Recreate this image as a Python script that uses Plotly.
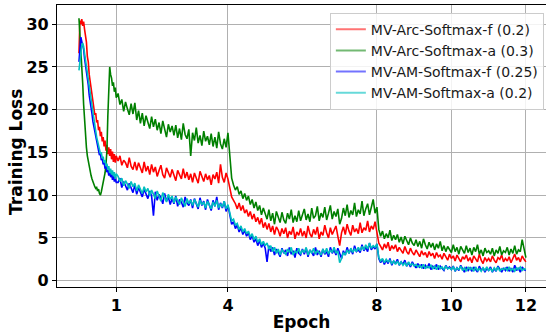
import numpy as np
import plotly.graph_objects as go

# ---- data ----
# sample grid: epochs 0..1 every 0.025, then 1.05..12.0 every 0.05
epoch_a = np.round(np.arange(41) * 0.025, 3)
epoch_b = np.round(1.05 + np.arange(220) * 0.05, 2)
epochs = np.concatenate([epoch_a, epoch_b])

arc_f = [
    26.6, 30.4, 30.0, 30.6, 29.8, 30.3, 29.4, 28.6, 27.9, 26.2,
    25.6, 24.1, 23.2, 22.4, 21.9, 20.8, 20.3, 19.4, 19.6, 18.5,
    18.8, 17.6, 18.0, 16.9, 17.4, 16.3, 16.8, 15.7, 16.4, 15.2,
    15.9, 14.8, 15.6, 14.6, 15.4, 14.2, 15.1, 13.9, 14.8, 13.8,
    14.6,
    14.0, 14.6, 13.5, 14.1, 13.8, 13.2, 14.4, 13.4, 13.0, 13.9,
    12.9, 13.8, 13.3, 12.6, 13.9, 12.8, 13.4, 12.4, 13.6, 12.7,
    13.3, 12.2, 12.9, 13.5, 12.4, 12.0, 13.2, 12.6, 12.1, 13.0,
    12.3, 11.7, 12.9, 12.4, 11.9, 13.1, 12.0, 12.7, 11.8, 12.5,
    11.5, 12.6, 12.0, 11.4, 12.8, 12.2, 11.6, 12.5, 11.8, 12.3,
    11.2, 12.4, 11.9, 12.7, 11.4, 13.6, 12.1, 11.5, 12.6, 11.9,
    10.6, 9.8, 9.4, 9.0, 8.4, 9.1, 8.2, 8.8, 7.9, 8.3,
    7.5, 8.1, 7.2, 7.8, 6.9, 7.4, 6.6, 7.3, 6.2, 6.8,
    6.0, 6.7, 5.7, 6.4, 5.4, 6.3, 5.9, 5.2, 6.1, 5.5,
    6.2, 5.0, 5.8, 5.4, 6.3, 4.9, 5.7, 5.3, 6.1, 5.2,
    5.8, 5.0, 6.4, 5.5, 5.1, 6.0, 5.4, 6.3, 4.9, 5.7,
    5.3, 6.5, 5.6, 5.0, 6.2, 5.4, 5.9, 6.4, 5.2, 4.1,
    5.6, 6.3, 5.4, 6.6, 5.8, 5.3, 6.5, 5.7, 6.1, 5.5,
    6.8, 5.6, 6.2, 5.9, 7.0, 5.7, 6.4, 6.0, 6.9, 5.8,
    4.4, 4.0, 3.6, 4.3, 3.8, 4.5, 3.5, 4.1, 3.7, 4.2,
    3.4, 3.9, 3.6, 3.2, 4.0, 3.4, 3.1, 3.8, 3.3, 3.0,
    3.6, 3.1, 2.8, 3.5, 3.0, 3.3, 2.7, 3.4, 2.9, 3.2,
    2.6, 3.3, 2.8, 3.0, 2.5, 3.2, 2.7, 2.4, 3.1, 2.6,
    2.9, 2.3, 3.0, 2.6, 2.2, 2.8, 2.5, 3.0, 2.3, 2.7,
    2.1, 2.9, 2.5, 2.2, 3.1, 2.4, 2.0, 2.7, 2.3, 2.6,
    2.2, 2.9, 2.4, 2.1, 2.7, 2.5, 3.0, 2.2, 2.6, 2.3,
    2.8, 2.1, 2.6, 3.1, 2.4, 2.7, 2.2, 2.9, 2.5, 2.2,
]

arc_a = [
    30.7, 29.0, 27.2, 25.3, 23.1, 20.6, 18.6, 16.9, 15.6, 14.6,
    13.9, 13.2, 12.7, 12.3, 11.9, 11.5, 11.3, 11.0, 10.8, 10.9,
    10.5, 10.7, 10.2, 10.0, 10.4, 10.9, 11.6, 12.0, 12.6, 13.6,
    15.2, 19.3, 23.4, 25.0, 24.1, 23.7, 22.8, 23.2, 22.1, 22.6,
    21.4,
    21.9, 20.6, 21.2, 19.8, 20.9, 20.1, 19.4, 20.7, 19.5, 20.8,
    18.8, 19.9, 18.4, 19.6, 18.1, 19.3, 18.6, 17.8, 19.2, 18.0,
    18.9, 17.6, 18.5, 17.2, 18.7, 17.9, 16.8, 18.3, 17.4, 18.1,
    17.0, 18.2, 16.7, 17.8, 16.5, 18.4, 17.1, 16.6, 17.7, 14.6,
    17.3, 16.4, 17.9, 16.1, 17.0, 15.8, 17.5, 16.3, 16.9, 15.9,
    17.2, 15.7, 16.8, 15.5, 17.4, 16.0, 15.4, 16.6, 15.6, 17.3,
    14.0, 12.0, 11.2, 10.6, 11.0, 10.1, 10.5, 9.6, 10.2, 9.4,
    9.9, 8.9, 9.5, 8.5, 9.2, 8.2, 8.8, 7.7, 8.5, 7.9,
    7.2, 8.3, 7.0, 7.9, 6.6, 8.1, 7.3, 6.8, 8.0, 7.1,
    6.7, 7.9, 7.2, 8.3, 6.8, 7.6, 6.9, 8.2, 7.0, 7.7,
    8.4, 7.1, 7.8, 6.9, 8.5, 7.3, 7.6, 8.7, 7.0, 7.9,
    7.4, 8.6, 7.1, 7.9, 8.8, 7.2, 8.1, 7.5, 8.4, 6.6,
    7.3, 8.5, 7.6, 8.9, 7.4, 8.2, 7.7, 9.1, 7.5, 8.3,
    7.8, 9.3, 7.6, 8.4, 9.0, 7.7, 8.6, 9.5, 7.9, 8.6,
    6.0, 5.2, 5.8, 4.9, 5.5, 5.0, 5.9, 4.7, 5.3, 4.8,
    5.4, 4.5, 5.1, 4.3, 5.2, 4.6, 4.2, 5.0, 4.4, 4.1,
    4.8, 4.0, 4.6, 3.8, 4.9, 4.2, 3.7, 4.5, 3.9, 4.4,
    3.6, 4.3, 3.8, 4.6, 3.5, 4.1, 3.4, 4.0, 3.7, 3.3,
    4.2, 3.4, 3.9, 3.1, 4.0, 3.6, 3.2, 4.1, 3.3, 3.8,
    3.0, 3.9, 3.4, 4.2, 3.1, 3.6, 2.9, 3.8, 3.3, 3.5,
    3.1, 3.8, 2.9, 3.6, 3.2, 4.0, 3.0, 3.5, 3.3, 3.9,
    3.0, 3.7, 3.2, 4.1, 3.1, 3.6, 3.4, 4.8, 3.9, 2.7,
]

am_f = [
    25.6, 27.3, 28.5, 28.0, 27.6, 27.1, 26.0, 25.3, 24.5, 23.6,
    22.9, 21.7, 21.1, 20.2, 19.5, 18.6, 18.1, 17.4, 17.0, 16.3,
    15.8, 15.5, 14.7, 14.9, 14.1, 14.3, 13.6, 13.9, 13.1, 13.5,
    12.7, 13.0, 12.3, 12.9, 12.1, 12.6, 11.8, 12.4, 11.6, 12.1,
    11.5,
    11.5, 12.0, 10.9, 11.6, 11.1, 10.6, 11.4, 10.8, 10.3, 11.2,
    10.1, 10.9, 10.4, 9.8, 10.7, 10.2, 9.6, 10.5, 9.9, 7.6,
    10.4, 9.4, 10.1, 9.7, 9.0, 10.2, 9.3, 9.8, 8.9, 9.6,
    9.0, 9.9, 8.7, 9.5, 9.2, 8.6, 9.8, 9.1, 8.8, 9.5,
    8.5, 9.6, 9.0, 8.4, 9.7, 8.8, 9.3, 8.3, 9.5, 8.9,
    8.2, 9.4, 8.7, 9.8, 8.3, 9.1, 8.5, 9.3, 8.1, 8.8,
    7.6, 6.6, 6.9, 6.1, 6.5, 5.7, 6.2, 5.4, 5.9, 5.2,
    5.6, 4.8, 5.3, 4.5, 4.9, 4.1, 4.7, 3.9, 4.4, 3.8,
    2.2, 4.1, 3.4, 3.9, 3.0, 3.7, 3.3, 2.8, 3.8, 3.2,
    3.6, 2.9, 3.9, 3.1, 3.5, 2.7, 3.8, 3.2, 3.0, 3.7,
    3.1, 3.8, 2.8, 3.6, 3.3, 2.9, 3.9, 3.0, 3.5, 2.8,
    3.7, 3.1, 3.4, 2.8, 3.9, 3.2, 3.6, 3.0, 3.8, 3.3,
    2.6, 3.5, 3.0, 3.9, 3.2, 3.7, 3.1, 4.1, 3.4, 3.6,
    3.3, 4.2, 3.5, 3.9, 3.4, 4.4, 3.6, 4.0, 3.7, 4.3,
    2.6, 2.1, 2.5, 1.9, 2.4, 2.0, 2.6, 1.8, 2.3, 2.0,
    2.5, 1.8, 2.2, 1.9, 2.4, 1.7, 2.1, 1.6, 2.2, 1.8,
    1.5, 2.0, 1.6, 1.9, 1.4, 1.8, 1.5, 2.0, 1.3, 1.7,
    1.4, 1.9, 1.3, 1.7, 1.5, 1.2, 1.8, 1.4, 1.6, 1.3,
    1.7, 1.1, 1.5, 1.2, 1.8, 1.3, 1.0, 1.6, 1.2, 1.5,
    1.1, 1.6, 1.3, 1.0, 1.7, 1.2, 1.5, 1.0, 1.4, 1.2,
    1.6, 1.0, 1.4, 1.1, 1.7, 1.3, 1.0, 1.5, 1.2, 1.6,
    1.1, 1.4, 1.0, 1.8, 1.2, 1.5, 1.0, 1.6, 1.3, 1.2,
]

am_a = [
    24.6, 25.8, 26.9, 27.5, 27.8, 27.4, 26.6, 25.8, 25.1, 24.3,
    23.5, 22.6, 21.8, 21.0, 20.1, 19.4, 18.7, 18.0, 17.5, 16.8,
    16.4, 15.7, 15.6, 14.9, 15.0, 14.3, 14.5, 13.8, 14.1, 13.4,
    13.7, 13.0, 13.4, 12.6, 13.1, 12.4, 12.9, 12.2, 12.7, 11.9,
    12.5,
    12.2, 11.6, 12.0, 11.1, 11.7, 11.3, 10.8, 11.6, 11.0, 11.4,
    10.5, 11.2, 10.7, 10.2, 11.0, 10.4, 10.8, 9.9, 10.6, 10.1,
    9.6, 10.5, 9.9, 9.3, 10.3, 9.7, 9.2, 10.1, 9.5, 9.9,
    9.1, 9.8, 9.4, 8.9, 9.7, 9.2, 8.7, 9.6, 9.0, 9.4,
    8.8, 9.5, 9.0, 8.6, 9.4, 8.9, 9.2, 8.5, 9.3, 8.8,
    8.4, 9.2, 8.7, 9.4, 8.5, 9.0, 8.6, 9.3, 8.4, 8.9,
    7.9, 7.0, 7.2, 6.5, 6.7, 6.0, 6.4, 5.7, 6.1, 5.5,
    5.8, 5.1, 5.5, 4.8, 5.2, 4.5, 4.9, 4.2, 4.6, 4.1,
    4.4, 3.7, 4.1, 3.4, 3.9, 3.2, 3.7, 3.0, 3.6, 3.3,
    3.1, 3.7, 3.3, 3.9, 3.0, 3.5, 3.2, 3.8, 3.1, 3.6,
    3.3, 3.9, 3.0, 3.6, 3.2, 3.8, 3.1, 3.5, 3.3, 3.0,
    3.7, 3.2, 3.8, 3.1, 3.6, 3.3, 3.9, 3.2, 3.5, 2.1,
    2.6, 3.3, 3.0, 3.6, 3.2, 3.8, 3.3, 3.7, 3.4, 3.9,
    3.5, 4.0, 3.6, 4.2, 3.7, 4.4, 3.8, 4.1, 3.9, 4.3,
    2.7, 2.3, 2.6, 2.1, 2.5, 2.2, 2.4, 2.0, 2.3, 1.9,
    2.3, 1.9, 2.2, 1.8, 2.1, 1.7, 2.2, 1.8, 2.0, 1.7,
    1.9, 1.6, 1.8, 1.5, 1.9, 1.4, 1.7, 1.5, 1.8, 1.4,
    1.7, 1.3, 1.8, 1.4, 1.6, 1.3, 1.7, 1.4, 1.5, 1.3,
    1.6, 1.2, 1.5, 1.3, 1.7, 1.2, 1.5, 1.1, 1.6, 1.3,
    1.5, 1.1, 1.6, 1.2, 1.4, 1.1, 1.5, 1.2, 1.6, 1.2,
    1.4, 1.1, 1.5, 1.2, 1.6, 1.1, 1.4, 1.3, 1.5, 1.2,
    1.6, 1.2, 1.4, 1.1, 1.5, 1.3, 1.6, 1.2, 1.4, 1.3,
]

names = ["MV-Arc-Softmax-f (0.2)", "MV-Arc-Softmax-a (0.3)",
         "MV-AM-Softmax-f (0.25)", "MV-AM-Softmax-a (0.2)"]
series = [arc_f, arc_a, am_f, am_a]
colors = ["#ff0000", "#008000", "#0000ff", "#00bfbf"]
legend_colors = ["rgba(255,0,0,0.55)", "rgba(0,128,0,0.55)",
                 "rgba(0,0,255,0.55)", "rgba(0,191,191,0.6)"]

x_ticks = [1, 4, 8, 10, 12]
y_ticks = [0, 5, 10, 15, 20, 25, 30]

fig = go.Figure()
for vals, c in zip(series, colors):
    fig.add_trace(go.Scatter(x=epochs, y=vals, mode="lines",
                             line=dict(color=c, width=1.6),
                             showlegend=False, hoverinfo="skip"))
for name, lc in zip(names, legend_colors):
    fig.add_trace(go.Scatter(x=[None], y=[None], mode="lines", name=name,
                             line=dict(color=lc, width=2)))

tick_font = dict(family="DejaVu Sans", size=16, color="#000000", weight="bold")
title_font = dict(family="DejaVu Sans", size=17, color="#000000", weight="bold")

fig.update_layout(
    width=546, height=332,
    margin=dict(l=57, r=0, t=5, b=45),
    paper_bgcolor="white", plot_bgcolor="white",
    showlegend=True,
    legend=dict(x=0.558, y=0.973, xanchor="left", yanchor="top",
                bgcolor="rgba(255,255,255,0.85)", bordercolor="#cccccc",
                borderwidth=1, itemwidth=30, tracegroupgap=0,
                font=dict(family="DejaVu Sans", size=14, color="#1a1a1a")),
    xaxis=dict(range=[-0.59, 12.54], tickvals=x_ticks,
               ticktext=[str(t) for t in x_ticks],
               showgrid=True, gridcolor="#b0b0b0", gridwidth=1,
               zeroline=False, showline=True, linecolor="#000000", linewidth=1.3,
               mirror=True, ticks="outside", ticklen=4, tickcolor="#000000",
               tickfont=tick_font, automargin=False,
               title=dict(text="Epoch", font=title_font, standoff=4)),
    yaxis=dict(range=[-0.74, 32.25], tickvals=y_ticks,
               showgrid=True, gridcolor="#b0b0b0", gridwidth=1,
               zeroline=False, showline=True, linecolor="#000000", linewidth=1.3,
               ticks="outside", ticklen=4, tickcolor="#000000",
               tickfont=tick_font, automargin=False),
    annotations=[dict(text="Training Loss", font=title_font, textangle=-90,
                      xref="paper", yref="paper", x=-0.0838, y=0.479,
                      xanchor="center", yanchor="middle", showarrow=False)],
)

fig.write_html("out.html", config={"displayModeBar": False},
               post_script="document.body.style.margin='0';document.body.style.overflow='hidden';")
